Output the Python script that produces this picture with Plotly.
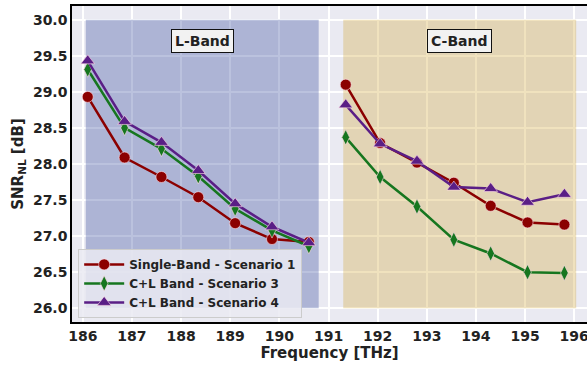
import plotly.graph_objects as go

# ---------- Data ----------
l_freq = [186.1, 186.85, 187.6, 188.35, 189.1, 189.85, 190.6]
c_freq = [191.35, 192.05, 192.8, 193.55, 194.3, 195.05, 195.8]

s1_l = [28.93, 28.09, 27.82, 27.54, 27.18, 26.96, 26.92]
s1_c = [29.10, 28.29, 28.02, 27.74, 27.42, 27.19, 27.16]

s3_l = [29.31, 28.50, 28.21, 27.83, 27.38, 27.08, 26.86]
s3_c = [28.37, 27.82, 27.41, 26.95, 26.76, 26.50, 26.49]

s4_l = [29.43, 28.59, 28.30, 27.91, 27.45, 27.13, 26.91]
s4_c = [28.82, 28.28, 28.04, 27.68, 27.66, 27.47, 27.58]

l_band = (186.06, 190.8)
c_band = (191.3, 196.04)

FONT = "DejaVu Sans"

series = [
    ("Single-Band - Scenario 1", s1_l, s1_c, "#8b0000", "circle", 11),
    ("C+L Band - Scenario 3", s3_l, s3_c, "#16761f", "diamond-tall", 11),
    ("C+L Band - Scenario 4", s4_l, s4_c, "#5a1e86", "triangle-up", 12),
]

fig = go.Figure()
for name, yl, yc, color, sym, size in series:
    fig.add_trace(go.Scatter(
        x=l_freq + [None] + c_freq,
        y=yl + [None] + yc,
        mode="lines+markers",
        name=name,
        line=dict(color=color, width=2.5),
        marker=dict(symbol=sym, size=size, color=color,
                    line=dict(color="rgba(255,220,230,0.6)", width=1)),
        connectgaps=False,
    ))

# band shading
fig.add_shape(type="rect", x0=l_band[0], x1=l_band[1], y0=26.0, y1=30.0,
              xref="x", yref="y", layer="between", line_width=0,
              fillcolor="rgba(60,80,160,0.35)")
fig.add_shape(type="rect", x0=c_band[0], x1=c_band[1], y0=26.0, y1=30.0,
              xref="x", yref="y", layer="between", line_width=0,
              fillcolor="rgba(211,171,70,0.35)")

for label, band in [("L-Band", l_band), ("C-Band", c_band)]:
    fig.add_annotation(
        x=(band[0] + band[1]) / 2, y=29.71, text="<b>%s</b>" % label,
        showarrow=False, font=dict(family=FONT, size=14, color="#222"),
        bgcolor="#f2f2f2", bordercolor="#111", borderwidth=1, borderpad=3,
    )

fig.update_layout(
    width=587, height=365,
    margin=dict(l=72, r=0, t=6, b=43),
    paper_bgcolor="white",
    plot_bgcolor="#eaeaf2",
    font=dict(family=FONT, color="#222"),
    showlegend=True,
    legend=dict(
        x=0.012, y=0.013, xanchor="left", yanchor="bottom",
        bgcolor="rgba(234,234,242,0.85)", bordercolor="#cccccc", borderwidth=1,
        font=dict(family=FONT, size=12, weight="bold", color="#222"),
        tracegroupgap=0, itemwidth=40,
    ),
)

fig.update_xaxes(
    range=[185.78, 196.26],
    tickvals=[186, 187, 188, 189, 190, 191, 192, 193, 194, 195, 196],
    tickfont=dict(family=FONT, size=14, weight="bold", color="#222"),
    ticklabeloverflow="allow",
    title=dict(text="<b>Frequency [THz]</b>", font=dict(family=FONT, size=15), standoff=2),
    showgrid=True, gridcolor="white", gridwidth=1.5, zeroline=False,
    showline=True, linecolor="black", linewidth=1.5, mirror=True,
    ticks="", automargin=False,
)
fig.update_yaxes(
    range=[25.81, 30.19],
    tickvals=[26.0, 26.5, 27.0, 27.5, 28.0, 28.5, 29.0, 29.5, 30.0],
    tickformat=".1f",
    tickfont=dict(family=FONT, size=14, weight="bold", color="#222"),
    title=dict(text="<b>SNR<sub>NL</sub> [dB]</b>", font=dict(family=FONT, size=15), standoff=6),
    showgrid=True, gridcolor="white", gridwidth=1.5, zeroline=False,
    showline=True, linecolor="black", linewidth=1.5, mirror=False,
    ticks="", automargin=False,
)

# page has a default 8px body margin; remove it so the figure sits at 0,0
fig.write_html("out.html", config={"displayModeBar": False},
               post_script="document.body.style.margin='0';")
